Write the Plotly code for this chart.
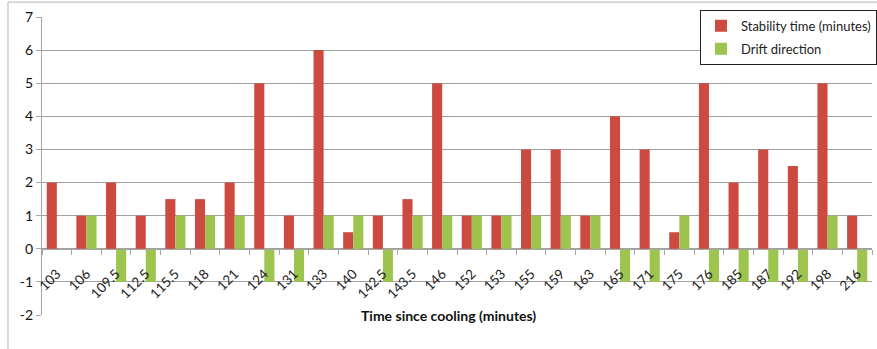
import plotly.graph_objects as go

# minutes since cooling (category labels)
times = ["103", "106", "109.5", "112.5", "115.5", "118", "121", "124", "131", "133",
         "140", "142.5", "143.5", "146", "152", "153", "155", "159", "163", "165",
         "171", "175", "176", "185", "187", "192", "198", "216"]
stability = [2, 1, 2, 1, 1.5, 1.5, 2, 5, 1, 6,
             0.5, 1, 1.5, 5, 1, 1, 3, 3, 1, 4,
             3, 0.5, 5, 2, 3, 2.5, 5, 1]
drift = [0, 1, -1, -1, 1, 1, 1, -1, -1, 1,
         1, -1, 1, 1, 1, 1, 1, 1, 1, -1,
         -1, 1, -1, -1, -1, -1, 1, -1]
y_ticks = [-2, -1, 0, 1, 2, 3, 4, 5, 6, 7]

ymin, ymax = -2, 7
font = "Lato, 'Open Sans', sans-serif"

fig = go.Figure()
fig.add_trace(go.Bar(x=times, y=stability, name="Stability time (minutes)",
                     marker=dict(color="#cd4a40", line=dict(width=0)),
                     legendgroup="a"))
fig.add_trace(go.Bar(x=times, y=drift, name="Drift direction",
                     marker=dict(color="#9cc44e", line=dict(width=0)),
                     legendgroup="b"))

fig.update_layout(
    width=877, height=349,
    margin=dict(l=42, r=5, t=17, b=34, autoexpand=False),
    paper_bgcolor="white", plot_bgcolor="white",
    font=dict(family=font, size=13, color="#222"),
    barmode="group", bargap=0.32, bargroupgap=0,
    showlegend=True,
    legend=dict(x=1.006, y=1.024, xanchor="right", yanchor="top",
                bgcolor="white", bordercolor="#222", borderwidth=1,
                font=dict(size=13), traceorder="grouped", tracegroupgap=3,
                itemwidth=30),
    xaxis=dict(
        type="category", anchor="free",
        position=(0 - ymin) / (ymax - ymin),
        showline=True, linecolor="#a6a6a6", linewidth=1,
        ticks="outside", tickson="boundaries", ticklen=5, tickcolor="#a6a6a6",
        tickangle=-45, showgrid=False, tickfont=dict(size=13.5),
        ticklabelstandoff=11,
    ),
    yaxis=dict(
        range=[ymin, ymax], tickvals=y_ticks,
        ticktext=[str(v) for v in y_ticks],
        showline=True, linecolor="#a6a6a6", linewidth=1,
        ticks="outside", ticklen=5, tickcolor="#a6a6a6",
        showgrid=True, gridcolor="#a0a0a0", gridwidth=1,
        zeroline=False, tickfont=dict(size=14, color="#111"),
    ),
    annotations=[dict(
        text="<b>Time since cooling (minutes)</b>", xref="paper", yref="y",
        x=0.49, y=ymin, showarrow=False, bgcolor="white",
        font=dict(size=14, color="#111"),
    )],
    shapes=[
        dict(type="line", xref="paper", yref="paper", x0=-0.041, x1=1.01,
             y0=1.05, y1=1.05, line=dict(color="#b5b5b5", width=1)),
        dict(type="line", xref="paper", yref="paper", x0=-0.041, x1=-0.041,
             y0=1.05, y1=-0.12, line=dict(color="#b5b5b5", width=1)),
    ],
)

fig.write_html("out.html", config={"displayModeBar": False},
               post_script="document.body.style.margin='0';")
